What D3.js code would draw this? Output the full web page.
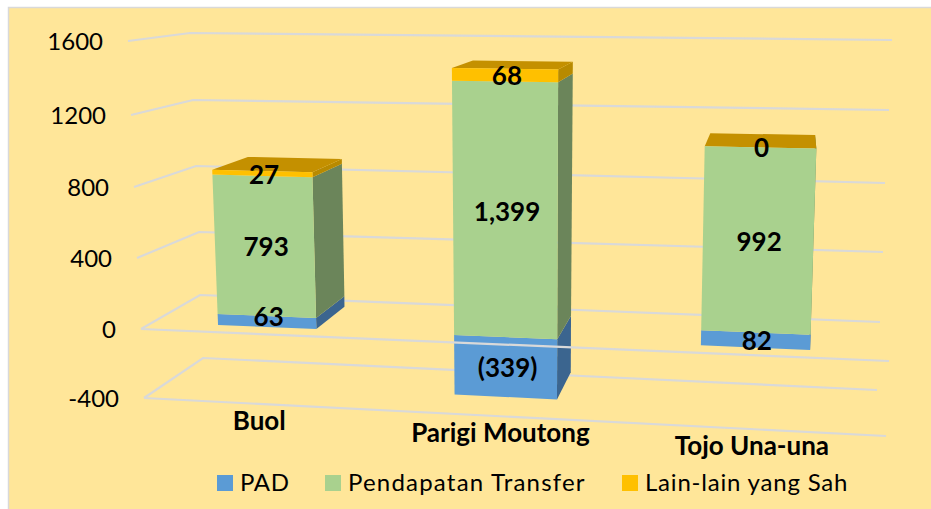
<!DOCTYPE html>
<html>
<head>
<meta charset="utf-8">
<script src="https://cdn.jsdelivr.net/npm/d3@7"></script>
<style>
  body { margin: 0; background: #fff; }
  text { font-family: Lato, "Open Sans", sans-serif; fill: #000; }
</style>
</head>
<body>
<div id="container"></div>
<script>
// data
const categories = ["Buol", "Parigi Moutong", "Tojo Una-una"];
const pad = [63, -339, 82];
const transfer = [793, 1399, 992];
const lainLain = [27, 68, 0];
const labelsPad = ["63", "(339)", "82"];
const labelsTransfer = ["793", "1,399", "992"];
const labelsLain = ["27", "68", "0"];
const valueTicks = [-400, 0, 400, 800, 1200, 1600];
const seriesNames = ["PAD", "Pendapatan Transfer", "Lain-lain yang Sah"];

const width = 931, height = 509;

// corners of the 3d box on screen, one entry per tick
const frontLeft = d3.scaleLinear().domain(valueTicks).range([[144, 398], [141, 329], [137, 258], [134, 187], [131, 115], [128, 41]]);
const backLeft = d3.scaleLinear().domain(valueTicks).range([[203, 358], [200, 295], [199, 232], [196, 166], [193, 100], [190, 33]]);
const backRight = d3.scaleLinear().domain(valueTicks).range([[877, 390], [880, 322], [883, 252], [885, 183], [889, 110], [892, 40]]);
const frontRight = d3.scaleLinear().domain(valueTicks).range([[886, 436], [889, 361], [892, 285], [895, 208], [898, 130], [901, 51]]);

// bars sit between these depths
const depthFront = 0.2, depthBack = 0.84;

const band = d3.scaleBand().domain(categories).range([0, 1]).paddingInner(0.577).paddingOuter(0.2885);
// the right side is nearer so the bars drift a bit
const warp = d3.scaleLinear().domain([0, 1 / 6, 1 / 2, 5 / 6, 1]).range([0, 0.154, 0.479, 0.818, 1]);

function project(u, d, v)
{
    var front = d3.interpolate(frontLeft(v), frontRight(v))(u);
    var back = d3.interpolate(backLeft(v), backRight(v))(u);
    return d3.interpolate(front, back)(d);
}

const colors = ["#5B9BD5", "#A9D18E", "#FFC000"];
const sideColors = ["#3B658F", "#6B855A", "#B88A00"];
const topColor = "#C49000";
const gridColor = "#D9D9D9";

const svg = d3.select("#container")
    .append("svg")
    .attr("width", width)
    .attr("height", height)
    .style("display", "block");

svg.append("rect")
    .attr("x", 8.5)
    .attr("y", 7.5)
    .attr("width", width)
    .attr("height", height)
    .attr("fill", "#FFE699")
    .attr("stroke", gridColor)
    .attr("stroke-width", 1.5);

const line = d3.line();

function gridPath(points)
{
    svg.append("path")
        .attr("d", line(points))
        .attr("fill", "none")
        .attr("stroke", gridColor)
        .attr("stroke-width", 2.2);
}

// back wall and left wall lines
valueTicks.forEach(function (v)
{
    gridPath([frontLeft(v), backLeft(v), backRight(v)]);
});
// floor at the bottom has its front edge behind everything
gridPath([frontLeft(-400), frontRight(-400)]);

svg.selectAll(".tick-label")
    .data(valueTicks)
    .enter()
    .append("text")
    .attr("class", "tick-label")
    .attr("x", function (d) { return frontLeft(d)[0] - 25; })
    .attr("y", function (d) { return frontLeft(d)[1] + 1; })
    .attr("dy", "0.35em")
    .attr("text-anchor", "end")
    .attr("font-size", 24)
    .text(function (d) { return d; });

// stack with negatives going under zero
const table = categories.map(function (c, i)
{
    return { category: c, pad: pad[i], transfer: transfer[i], lain: lainLain[i] };
});
const stacked = d3.stack()
    .keys(["pad", "transfer", "lain"])
    .offset(d3.stackOffsetDiverging)(table);

function face(points, fill)
{
    svg.append("path")
        .attr("d", line(points) + "Z")
        .attr("fill", fill);
}

categories.forEach(function (c, i)
{
    var u0 = warp(band(c));
    var u1 = warp(band(c) + band.bandwidth());

    // right side first, front goes over it
    stacked.forEach(function (s, k)
    {
        var lo = s[i][0], hi = s[i][1];
        face([project(u1, depthFront, lo), project(u1, depthBack, lo),
              project(u1, depthBack, hi), project(u1, depthFront, hi)], sideColors[k]);
    });

    var top = d3.max(stacked, function (s) { return s[i][1]; });
    face([project(u0, depthFront, top), project(u0, depthBack, top),
          project(u1, depthBack, top), project(u1, depthFront, top)], topColor);

    stacked.forEach(function (s, k)
    {
        var lo = s[i][0], hi = s[i][1];
        face([project(u0, depthFront, lo), project(u1, depthFront, lo),
              project(u1, depthFront, hi), project(u0, depthFront, hi)], colors[k]);
    });
});

// front edge of the zero floor runs over the bars
gridPath([frontLeft(0), frontRight(0)]);

const valueLabels = [labelsPad, labelsTransfer, labelsLain];
// the 63 label sits higher than its thin segment in the original
const labelNudge = { "63": -6 };

categories.forEach(function (c, i)
{
    var um = warp(band(c) + band.bandwidth() / 2);
    var top = d3.max(stacked, function (s) { return s[i][1]; });

    stacked.forEach(function (s, k)
    {
        // a zero segment collapses to the baseline, keep its label on the top of the stack
        var mid = s[i][0] === s[i][1] ? top : (s[i][0] + s[i][1]) / 2;
        var p = project(um, depthFront, mid);
        var text = valueLabels[k][i];
        svg.append("text")
            .attr("x", p[0] + 3)
            .attr("y", p[1] + 1 + (labelNudge[text] || 0))
            .attr("dy", "0.35em")
            .attr("text-anchor", "middle")
            .attr("font-size", 26)
            .attr("font-weight", 700)
            .text(text);
    });

    var p = project(um, 0, -400);
    svg.append("text")
        .attr("x", p[0] + 1)
        .attr("y", p[1] + 17)
        .attr("dy", "0.35em")
        .attr("text-anchor", "middle")
        .attr("font-size", 26)
        .attr("font-weight", 700)
        .text(c);
});

// legend
const legendSwatch = d3.scaleOrdinal().domain(seriesNames).range([217, 325, 622]);
const legendSpacing = d3.scaleOrdinal().domain(seriesNames).range([0.6, 1.2, 0.8]);
seriesNames.forEach(function (name, i)
{
    svg.append("rect")
        .attr("x", legendSwatch(name))
        .attr("y", 475)
        .attr("width", 16)
        .attr("height", 16)
        .attr("fill", colors[i]);

    svg.append("text")
        .attr("x", legendSwatch(name) + 23)
        .attr("y", 483)
        .attr("dy", "0.35em")
        .attr("font-size", 24)
        .attr("letter-spacing", legendSpacing(name))
        .text(name);
});
</script>
</body>
</html>
